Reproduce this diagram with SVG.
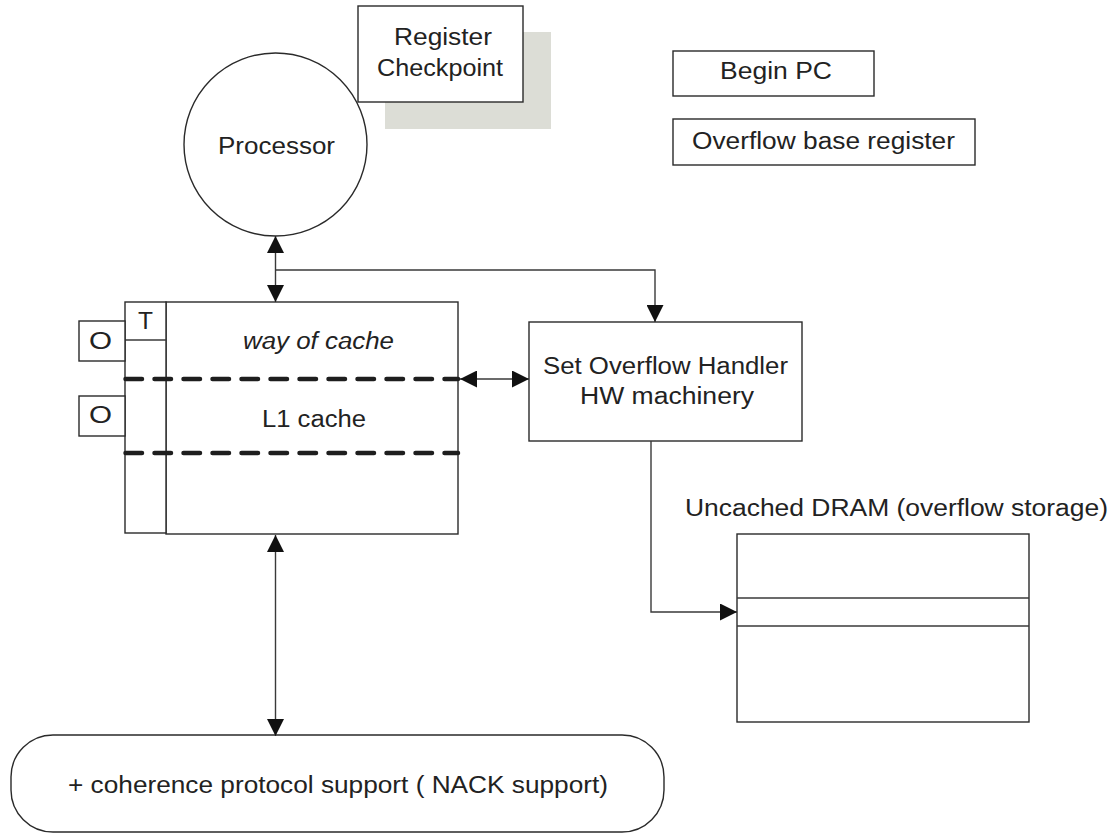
<svg xmlns="http://www.w3.org/2000/svg" width="1116" height="834" viewBox="0 0 1116 834">
<style>
  .box{fill:#fff;stroke:#2a2a2a;stroke-width:1.4}
  .ln{fill:none;stroke:#3a3a3a;stroke-width:1.4}
  .dash{fill:none;stroke:#1e1e1e;stroke-width:4.5;stroke-linecap:round;stroke-dasharray:16.5 12.5}
  text{font-family:"Liberation Sans",Arial,Helvetica,sans-serif;font-size:23px;fill:#222}
  .it{font-style:italic}
</style>
<defs>
  <marker id="ah" markerUnits="userSpaceOnUse" markerWidth="17" markerHeight="17" refX="17" refY="8.5" orient="auto-start-reverse" viewBox="0 0 17 17">
    <path d="M0,0 L17,8.5 L0,17 z" fill="#111"/>
  </marker>
</defs>
<rect width="1116" height="834" fill="#fff"/>

<g id="register-checkpoint">
  <rect x="385" y="32" width="166" height="97" fill="#dcddd6"/>
  <rect class="box" x="358" y="6" width="165" height="96"/>
  <text x="394" y="45" textLength="98" lengthAdjust="spacingAndGlyphs">Register</text>
  <text x="377" y="76" textLength="126" lengthAdjust="spacingAndGlyphs">Checkpoint</text>
</g>

<g id="processor">
  <circle class="box" cx="275.5" cy="144.5" r="91.5"/>
  <text x="218" y="154" textLength="117" lengthAdjust="spacingAndGlyphs">Processor</text>
</g>

<g id="begin-pc">
  <rect class="box" x="673" y="51" width="201" height="45"/>
  <text x="720" y="79" textLength="112" lengthAdjust="spacingAndGlyphs">Begin PC</text>
</g>

<g id="overflow-base-register">
  <rect class="box" x="673" y="119" width="302" height="46"/>
  <text x="692" y="149" textLength="263" lengthAdjust="spacingAndGlyphs">Overflow base register</text>
</g>

<g id="l1-cache">
  <rect class="box" x="166" y="302" width="292" height="232"/>
  <rect class="box" x="125" y="302" width="41" height="231"/>
  <line class="ln" x1="125" y1="340" x2="166" y2="340"/>
  <rect class="box" x="79" y="321" width="46" height="40"/>
  <rect class="box" x="79" y="396" width="46" height="40"/>
  <text x="89" y="349" textLength="23" lengthAdjust="spacingAndGlyphs">O</text>
  <text x="89" y="423" textLength="23" lengthAdjust="spacingAndGlyphs">O</text>
  <text x="138" y="329" textLength="15" lengthAdjust="spacingAndGlyphs">T</text>
  <text class="it" x="243" y="349" textLength="151" lengthAdjust="spacingAndGlyphs">way of cache</text>
  <text x="262" y="427" textLength="104" lengthAdjust="spacingAndGlyphs">L1 cache</text>
  <line class="dash" x1="125.5" y1="379" x2="458" y2="379"/>
  <line class="dash" x1="125.5" y1="453" x2="458" y2="453"/>
</g>

<g id="overflow-handler">
  <rect class="box" x="529" y="322" width="273" height="119"/>
  <text x="543" y="374" textLength="245" lengthAdjust="spacingAndGlyphs">Set Overflow Handler</text>
  <text x="580" y="404" textLength="174" lengthAdjust="spacingAndGlyphs">HW machinery</text>
</g>

<g id="dram">
  <text x="685" y="516" textLength="423" lengthAdjust="spacingAndGlyphs">Uncached DRAM (overflow storage)</text>
  <rect class="box" x="737" y="534" width="292" height="188"/>
  <line class="ln" x1="737" y1="598" x2="1029" y2="598"/>
  <line class="ln" x1="737" y1="626" x2="1029" y2="626"/>
</g>

<g id="coherence">
  <rect class="box" x="11" y="735" width="653" height="97" rx="42" ry="42"/>
  <text x="68" y="793" textLength="540" lengthAdjust="spacingAndGlyphs">+ coherence protocol support ( NACK support)</text>
</g>

<g id="connectors">
  <line class="ln" x1="275.5" y1="236" x2="275.5" y2="302" marker-start="url(#ah)" marker-end="url(#ah)"/>
  <polyline class="ln" points="275.5,270 655,270 655,322" marker-end="url(#ah)"/>
  <line class="ln" x1="460" y1="379" x2="529" y2="379" marker-start="url(#ah)" marker-end="url(#ah)"/>
  <polyline class="ln" points="651,441 651,612 737,612" marker-end="url(#ah)"/>
  <line class="ln" x1="275.5" y1="535" x2="275.5" y2="736" stroke="#666" marker-start="url(#ah)" marker-end="url(#ah)"/>
</g>
</svg>
